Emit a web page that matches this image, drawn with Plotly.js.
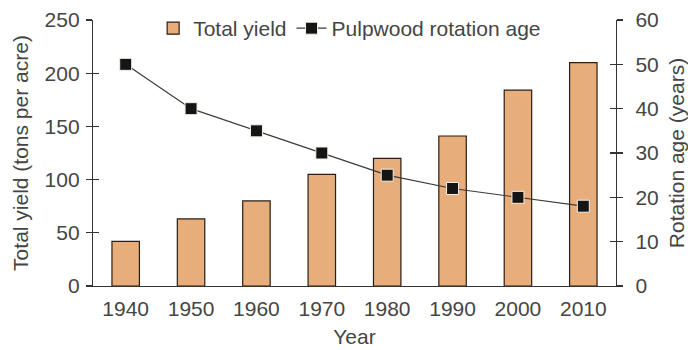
<!DOCTYPE html>
<html>
<head>
<meta charset="utf-8">
<script src="https://cdn.plot.ly/plotly-3.0.1.min.js"></script>
<style>html,body{margin:0;padding:0;background:#fff;}#chart{width:688px;height:350px;}</style>
</head>
<body>
<div id="chart"></div>
<script>
var years = ["1940","1950","1960","1970","1980","1990","2000","2010"];
var totalYield = [42, 63, 80, 105, 120, 141, 184, 210];
var rotationAge = [50, 40, 35, 30, 25, 22, 20, 18];
var leftTicks = [0, 50, 100, 150, 200, 250];
var rightTicks = [0, 10, 20, 30, 40, 50, 60];

var fontFam = 'Liberation Sans, Arial, sans-serif';
var txt = '#454545';
var fs = 21;

var traces = [
  {
    type: 'bar', name: 'Total yield', x: years, y: totalYield,
    marker: {color: '#E7AD7B', line: {color: '#2b1d14', width: 1.2}},
    width: 0.42, yaxis: 'y', hoverinfo: 'skip'
  },
  {
    type: 'scatter', mode: 'lines+markers', name: 'Pulpwood rotation age',
    x: years, y: rotationAge, yaxis: 'y2',
    line: {color: '#3a3a3a', width: 1.2},
    marker: {symbol: 'square', size: 12, color: '#151515', line: {color: '#f5f0e6', width: 1}}
  }
];

var layout = {
  width: 688, height: 350,
  margin: {l: 93, r: 72, t: 20, b: 64, autoexpand: false},
  paper_bgcolor: '#fff', plot_bgcolor: '#fff',
  font: {family: fontFam, size: fs, color: txt},
  showlegend: true,
  legend: {orientation: 'h', x: 0.115, y: 1.045, xanchor: 'left', yanchor: 'top',
           font: {size: fs, color: txt}, bgcolor: 'rgba(0,0,0,0)', itemwidth: 30, tracegroupgap: 0},
  xaxis: {
    type: 'category', range: [-0.5, 7.5], showline: true, linecolor: '#333', linewidth: 1.2,
    ticks: '', showgrid: false, zeroline: false, tickfont: {size: fs, color: txt}, ticklabelstandoff: 4,
    title: {text: 'Year', font: {size: fs, color: txt}, standoff: 9}
  },
  yaxis: {
    range: [0, 250], tickvals: leftTicks, showline: true, linecolor: '#333', linewidth: 1.2,
    ticks: 'outside', ticklen: 6, tickcolor: '#333', tickwidth: 1.2, showgrid: false, zeroline: false,
    tickfont: {size: fs, color: txt}, ticklabelstandoff: 2,
    title: {text: 'Total yield (tons per acre)', font: {size: fs, color: txt}, standoff: 10}
  },
  yaxis2: {
    range: [0, 60], tickvals: rightTicks, overlaying: 'y', side: 'right', showline: true,
    linecolor: '#333', linewidth: 1.2, ticks: 'outside', ticklen: 6, tickcolor: '#333', tickwidth: 1.2,
    showgrid: false, zeroline: false, tickfont: {size: fs, color: txt}, ticklabelstandoff: 8,
    title: {text: 'Rotation age (years)', font: {size: fs, color: txt}, standoff: 11}
  },
  yaxis3: {
    range: [0, 250], tickvals: leftTicks, overlaying: 'y', side: 'left', showline: false,
    ticks: 'inside', ticklen: 6, tickcolor: '#333', tickwidth: 1.2, showticklabels: false,
    showgrid: false, zeroline: false
  },
  yaxis4: {
    range: [0, 60], tickvals: rightTicks, overlaying: 'y', side: 'right', showline: false,
    ticks: 'inside', ticklen: 6, tickcolor: '#333', tickwidth: 1.2, showticklabels: false,
    showgrid: false, zeroline: false
  }
};

// invisible helper traces so the tick-only axes are drawn
traces.push({type: 'scatter', x: [years[0]], y: [0], yaxis: 'y3', mode: 'markers', marker: {opacity: 0}, showlegend: false, hoverinfo: 'skip'});
traces.push({type: 'scatter', x: [years[0]], y: [0], yaxis: 'y4', mode: 'markers', marker: {opacity: 0}, showlegend: false, hoverinfo: 'skip'});

Plotly.newPlot('chart', traces, layout, {displayModeBar: false, staticPlot: true});
</script>
</body>
</html>
